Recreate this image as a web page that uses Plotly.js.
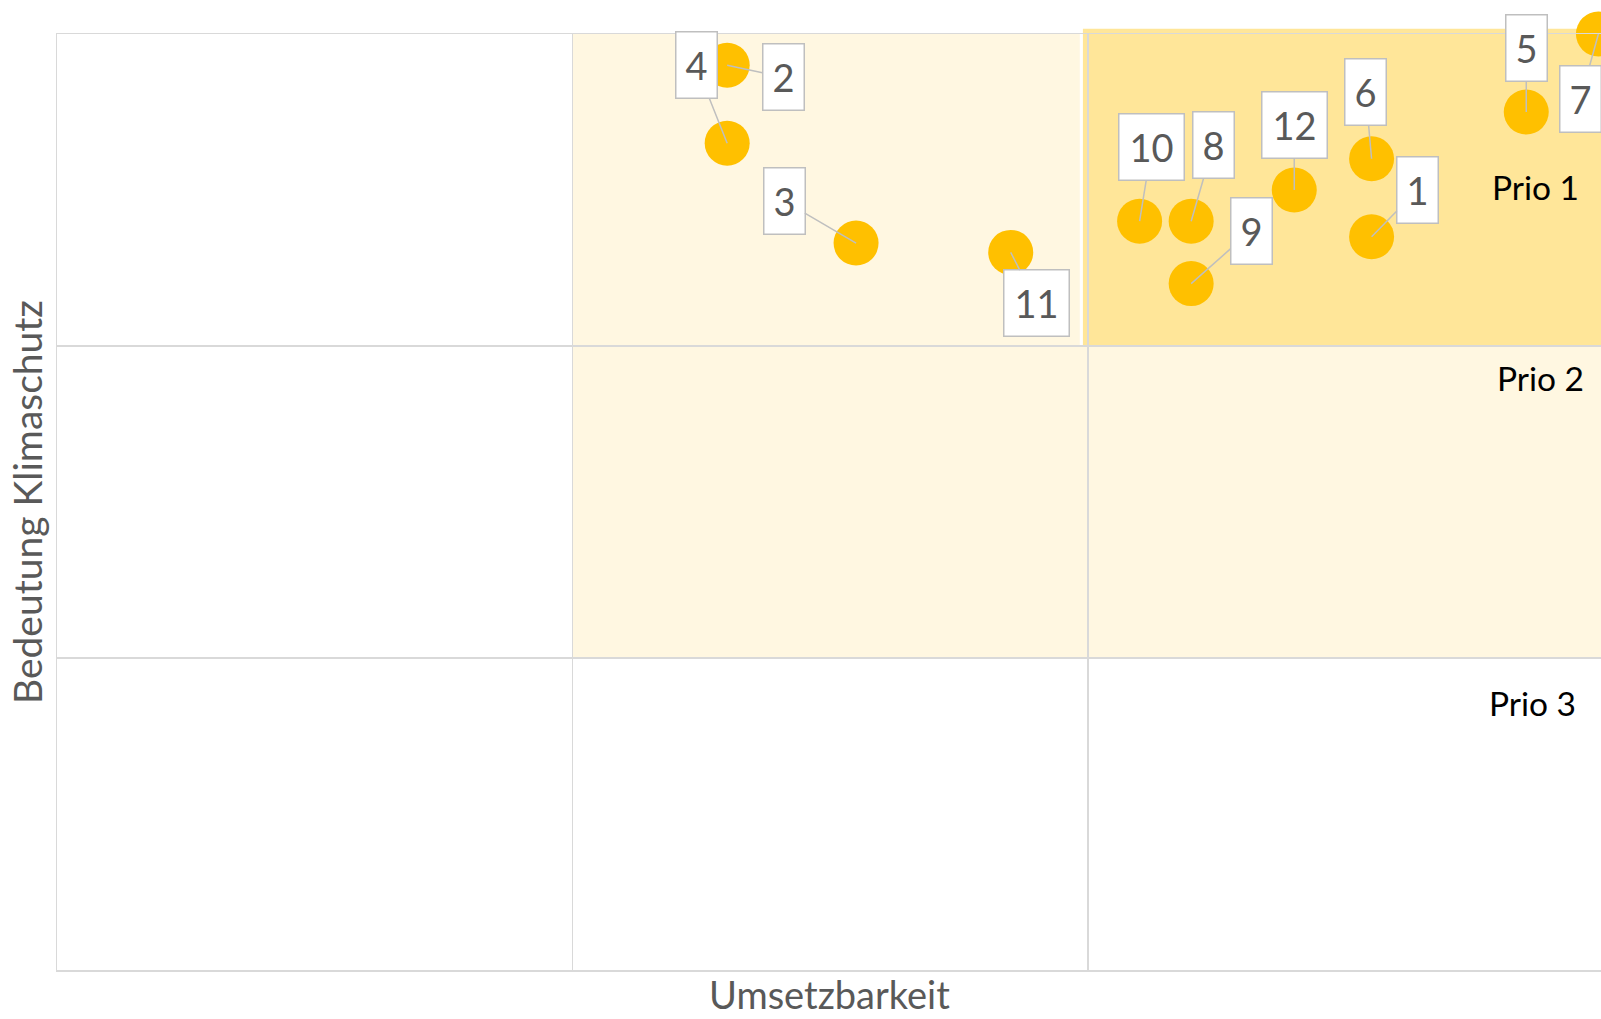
<!DOCTYPE html>
<html>
<head>
<meta charset="utf-8">
<script src="https://cdn.plot.ly/plotly-3.0.1.min.js"></script>
<style>html,body{margin:0;padding:0;background:#fff;}#chart{width:1601px;height:1019px;}</style>
</head>
<body>
<div id="chart"></div>
<script>
// ---- data ----
var massnahmen = ['1','2','3','4','5','6','7','8','9','10','11','12'];
var umsetzbarkeit = [2.55, 1.3, 1.55, 1.3, 2.85, 2.55, 2.99, 2.2, 2.2, 2.1, 1.85, 2.4];
var bedeutung = [2.35, 2.9, 2.33, 2.65, 2.75, 2.6, 3.0, 2.4, 2.2, 2.4, 2.3, 2.5];
var prioLabels = ['Prio 1', 'Prio 2', 'Prio 3'];
var xTitle = 'Umsetzbarkeit';
var yTitle = 'Bedeutung Klimaschutz';

// ---- label callout offsets (pixels, box centre relative to point) ----
var calloutOffsets = {
  '1': [46, -47], '2': [56, 12], '3': [-72, -42], '4': [-31, -78],
  '5': [0, -64], '6': [-6, -67], '7': [-18, 65], '8': [22, -76],
  '9': [60, -53], '10': [12, -74], '11': [26, 51], '12': [0, -65]
};

var FONT = 'Lato, "Open Sans", sans-serif';
var GRID = '#D9D9D9';

var trace = {
  type: 'scatter', mode: 'markers',
  x: umsetzbarkeit, y: bedeutung, text: massnahmen,
  marker: {size: 45, color: '#FFC000', line: {width: 0}},
  cliponaxis: false, hoverinfo: 'text', showlegend: false
};

var annotations = massnahmen.map(function (m, i) {
  var off = calloutOffsets[m];
  return {
    x: umsetzbarkeit[i], y: bedeutung[i], xref: 'x', yref: 'y',
    text: m, showarrow: true, ax: off[0], ay: off[1],
    arrowhead: 0, arrowwidth: 1.5, arrowcolor: '#BFBFBF', standoff: 0,
    bgcolor: '#FFFFFF', bordercolor: '#BFBFBF', borderwidth: 1.5, borderpad: 1,
    width: m.length > 1 ? 62 : 38, height: 63,
    font: {family: FONT, size: 38, color: '#595959'}
  };
});

var prioPos = [[2.867, 2.51], [2.877, 1.897], [2.863, 0.856]];
prioLabels.forEach(function (p, i) {
  annotations.push({
    x: prioPos[i][0], y: prioPos[i][1], xref: 'x', yref: 'y',
    text: p, showarrow: false, xanchor: 'center', yanchor: 'middle',
    font: {family: FONT, size: 33.5, color: '#000000'}
  });
});

// axis titles (placed as annotations for exact positioning)
annotations.push({
  x: 0.5, y: 0, xref: 'paper', yref: 'paper', xanchor: 'center', yanchor: 'middle',
  yshift: -24, showarrow: false, text: xTitle,
  font: {family: FONT, size: 38, color: '#595959'}
});
annotations.push({
  x: 0, y: 0.5, xref: 'paper', yref: 'paper', xanchor: 'center', yanchor: 'middle',
  xshift: -30, showarrow: false, text: yTitle, textangle: -90,
  font: {family: FONT, size: 39, color: '#595959'}
});

var shapes = [
  {type: 'rect', layer: 'below', xref: 'x', yref: 'y', x0: 1, x1: 1.984, y0: 2, y1: 3,
   fillcolor: '#FFF7E1', line: {width: 0}},
  {type: 'rect', layer: 'below', xref: 'x', yref: 'y', x0: 1, x1: 2.995, y0: 1, y1: 2,
   fillcolor: '#FFF7E1', line: {width: 0}},
  {type: 'rect', layer: 'below', xref: 'x', yref: 'paper', x0: 1.99, x1: 2.995, y0: 2/3, y1: 1.0055,
   fillcolor: '#FFE699', line: {width: 0}}
];

var layout = {
  width: 1601, height: 1019,
  margin: {l: 57, r: 0, t: 34, b: 49, pad: 0},
  paper_bgcolor: '#FFFFFF', plot_bgcolor: '#FFFFFF',
  font: {family: FONT},
  xaxis: {
    range: [0, 2.995], tickvals: [1, 2], showticklabels: false, ticks: '',
    showgrid: true, gridcolor: GRID, gridwidth: 1.5, zeroline: false,
    showline: true, linecolor: GRID, linewidth: 1.5, mirror: true,
    fixedrange: true
  },
  yaxis: {
    range: [0, 3], tickvals: [1, 2], showticklabels: false, ticks: '',
    showgrid: true, gridcolor: GRID, gridwidth: 1.5, zeroline: false,
    showline: true, linecolor: GRID, linewidth: 1.5, mirror: false,
    fixedrange: true
  },
  shapes: shapes,
  annotations: annotations,
  showlegend: false
};

Plotly.newPlot('chart', [trace], layout, {displayModeBar: false, staticPlot: true});
</script>
</body>
</html>
